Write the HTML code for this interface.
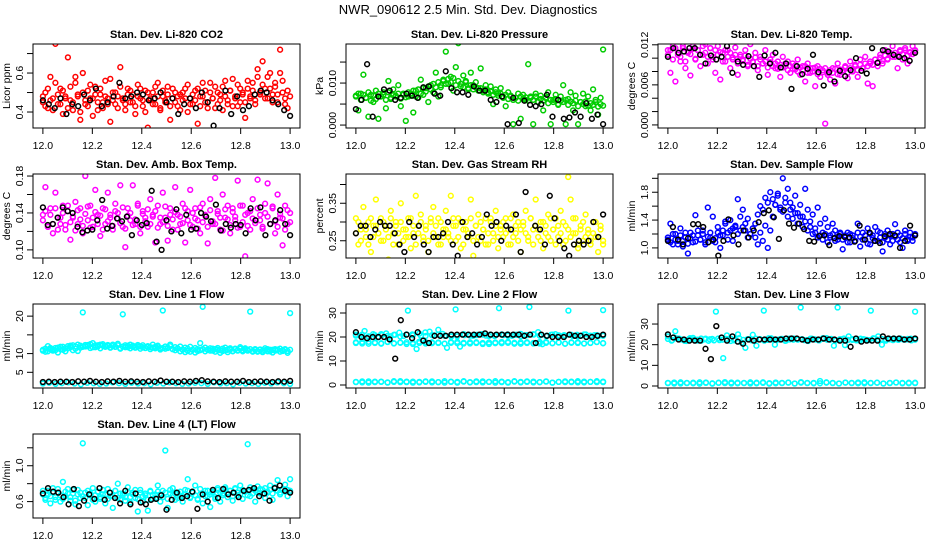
<!DOCTYPE html>
<html><head><meta charset="utf-8"><style>
body{margin:0;background:#fff;}
svg{display:block;font-family:"Liberation Sans",sans-serif;}
</style></head><body>
<svg id="chart" width="936" height="540" viewBox="0 0 936 540">
<rect width="936" height="540" fill="#fff"/>
<text x="468" y="14" text-anchor="middle" font-size="13">NWR_090612  2.5 Min. Std. Dev. Diagnostics</text>
</svg>
<script>
const xTicks=[12.0,12.2,12.4,12.6,12.8,13.0];
const xTickLabels=["12.0","12.2","12.4","12.6","12.8","13.0"];
const co2Color=[0.45,0.50,0.42,0.58,0.47,0.75,0.44,0.52,0.39,0.48,0.68,0.46,0.41,0.55,0.49,0.36,0.60,0.44,0.51,0.47,0.38,0.53,0.45,0.49,0.42,0.56,0.47,0.35,0.50,0.44,0.48,0.63,0.46,0.41,0.52,0.45,0.49,0.39,0.54,0.47,0.43,0.51,0.32,0.46,0.50,0.44,0.55,0.41,0.48,0.45,0.53,0.36,0.47,0.50,0.43,0.49,0.46,0.52,0.40,0.47,0.44,0.51,0.34,0.48,0.55,0.45,0.42,0.50,0.47,0.53,0.44,0.49,0.41,0.56,0.46,0.51,0.43,0.48,0.54,0.45,0.50,0.37,0.52,0.47,0.55,0.44,0.58,0.49,0.66,0.52,0.47,0.60,0.45,0.53,0.49,0.72,0.56,0.44,0.51,0.30];
const co2Color2=[0.48,0.43,0.52,0.46,0.41,0.55,0.49,0.44,0.51,0.47,0.42,0.53,0.45,0.58,0.48,0.40,0.50,0.46,0.43,0.54,0.47,0.49,0.41,0.52,0.45,0.48,0.44,0.57,0.46,0.50,0.42,0.53,0.47,0.44,0.49,0.51,0.45,0.43,0.48,0.52,0.46,0.40,0.50,0.47,0.44,0.53,0.48,0.42,0.51,0.46,0.49,0.43,0.52,0.45,0.48,0.41,0.50,0.47,0.54,0.44,0.49,0.46,0.52,0.43,0.48,0.51,0.45,0.55,0.47,0.42,0.50,0.46,0.53,0.48,0.44,0.51,0.57,0.47,0.43,0.52,0.49,0.45,0.56,0.48,0.51,0.46,0.62,0.50,0.54,0.47,0.58,0.52,0.49,0.55,0.45,0.60,0.50,0.47,0.42,0.48];
const co2Black=[0.46,0.44,0.42,0.47,0.39,0.44,0.43,0.49,0.46,0.52,0.43,0.45,0.48,0.55,0.47,0.48,0.50,0.49,0.46,0.47,0.50,0.45,0.47,0.39,0.44,0.47,0.42,0.50,0.45,0.33,0.42,0.51,0.39,0.48,0.41,0.43,0.49,0.51,0.50,0.46,0.44,0.41,0.38];
const presColor=[0.007,0.0035,0.0075,0.012,0.0065,0.002,0.0072,0.0055,0.0082,0.0015,0.0068,0.0078,0.004,0.0105,0.0062,0.0085,0.007,0.0095,0.0045,0.0075,0.001,0.0068,0.0075,0.003,0.0082,0.0065,0.0108,0.0072,0.0088,0.0055,0.0095,0.0078,0.0125,0.0068,0.009,0.0105,0.0175,0.0098,0.0115,0.0082,0.0138,0.0195,0.0092,0.0118,0.0105,0.0085,0.0125,0.0095,0.0102,0.0088,0.0135,0.0082,0.0095,0.0078,0.0092,0.005,0.0085,0.0075,0.0088,0.0068,0.0045,0.0078,0.007,0.0002,0.0065,0.0075,0.0015,0.0072,0.006,0.0145,0.0068,0.0002,0.0075,0.0055,0.007,0.0035,0.0065,0.0078,0.0002,0.006,0.0072,0.0048,0.0068,0.0095,0.0002,0.0062,0.0078,0.0035,0.007,0.0002,0.0055,0.0075,0.0045,0.0068,0.0035,0.0085,0.006,0.0025,0.0065,0.018];
const presColor2=[0.0068,0.0075,0.006,0.0072,0.0065,0.0078,0.0058,0.007,0.0062,0.0075,0.0068,0.0072,0.006,0.0078,0.0065,0.0071,0.0068,0.0075,0.0063,0.0072,0.0066,0.0078,0.007,0.0082,0.0068,0.0085,0.0075,0.0088,0.008,0.0092,0.0085,0.0098,0.009,0.0102,0.0095,0.0108,0.0098,0.011,0.0102,0.0112,0.0095,0.0105,0.0098,0.009,0.0102,0.0088,0.0095,0.0085,0.009,0.0082,0.0088,0.0078,0.0085,0.0075,0.008,0.0072,0.0078,0.007,0.0075,0.0065,0.0072,0.0062,0.0068,0.006,0.0065,0.0058,0.0068,0.0062,0.0066,0.0058,0.0065,0.006,0.0068,0.0055,0.0062,0.0058,0.0065,0.0052,0.006,0.0055,0.0062,0.005,0.0058,0.0055,0.006,0.0048,0.0056,0.0052,0.0058,0.0045,0.0055,0.005,0.0056,0.0046,0.0052,0.0048,0.0055,0.0044,0.005,0.0046];
const presBlack=[0.0038,0.006,0.0145,0.002,0.0068,0.0085,0.0082,0.006,0.0065,0.0075,0.007,0.0065,0.009,0.0092,0.0075,0.007,0.0128,0.0088,0.0078,0.0078,0.0072,0.0092,0.0082,0.0082,0.006,0.0055,0.0068,0.0002,0.0065,0.0005,0.0058,0.0048,0.0045,0.005,0.0072,0.002,0.006,0.0015,0.0018,0.003,0.002,0.0052,0.0015,0.0025,0.0002];
const tempColor=[0.0112,0.0078,0.0118,0.0065,0.0105,0.0095,0.0115,0.0085,0.0108,0.0074,0.0118,0.0098,0.0112,0.0088,0.0105,0.0121,0.0092,0.0115,0.0102,0.0078,0.0118,0.0068,0.0108,0.0095,0.0112,0.0085,0.0101,0.0116,0.0075,0.0105,0.0098,0.0112,0.0088,0.0121,0.0095,0.0108,0.0082,0.0102,0.0092,0.0112,0.0075,0.0098,0.0105,0.0085,0.0095,0.0072,0.0102,0.0088,0.0095,0.0078,0.0092,0.0083,0.0098,0.0075,0.0088,0.0065,0.0092,0.0078,0.0085,0.0058,0.0088,0.0072,0.0082,0.0002,0.0078,0.0068,0.0085,0.0062,0.0092,0.0075,0.0082,0.0088,0.0070,0.0095,0.0080,0.0090,0.0072,0.0098,0.0085,0.0102,0.0062,0.0092,0.0058,0.0098,0.0088,0.0105,0.0092,0.0112,0.0098,0.0108,0.0118,0.0102,0.0085,0.0112,0.0098,0.0115,0.0092,0.0108,0.0118,0.0112];
const tempColor2=[0.0105,0.0112,0.0098,0.0115,0.0108,0.0102,0.0118,0.0095,0.011,0.0106,0.0114,0.0099,0.0112,0.0105,0.0118,0.0108,0.0102,0.0115,0.0098,0.0112,0.0105,0.0109,0.0095,0.0112,0.0102,0.0108,0.0098,0.0105,0.0092,0.0102,0.0096,0.0104,0.009,0.0099,0.0094,0.0101,0.0088,0.0098,0.0092,0.0095,0.0086,0.0094,0.0088,0.0092,0.0084,0.009,0.0086,0.0092,0.0082,0.0088,0.0084,0.0089,0.008,0.0086,0.0082,0.0088,0.0078,0.0085,0.008,0.0086,0.0076,0.0084,0.0079,0.0085,0.0075,0.0082,0.0078,0.0084,0.0076,0.0083,0.0079,0.0086,0.0078,0.0085,0.0081,0.0088,0.0082,0.009,0.0085,0.0092,0.0088,0.0095,0.009,0.0098,0.0093,0.0101,0.0096,0.0104,0.0099,0.0106,0.0102,0.0108,0.0104,0.011,0.0106,0.0112,0.0104,0.0109,0.0106,0.0111];
const tempBlack=[0.0102,0.0115,0.0108,0.011,0.0115,0.0115,0.0105,0.0092,0.0104,0.0098,0.0102,0.0118,0.0078,0.0095,0.009,0.0103,0.0088,0.0072,0.0104,0.0092,0.0108,0.0086,0.0092,0.0054,0.0088,0.0076,0.0084,0.0105,0.0079,0.0059,0.0079,0.0065,0.0081,0.0073,0.0082,0.0100,0.0081,0.0077,0.0115,0.0093,0.0112,0.0110,0.0105,0.0102,0.0100,0.0096,0.0108];
const ambColor=[0.138,0.168,0.125,0.145,0.118,0.162,0.135,0.128,0.148,0.122,0.142,0.111,0.135,0.152,0.128,0.145,0.118,0.180,0.132,0.148,0.125,0.165,0.138,0.115,0.145,0.128,0.162,0.135,0.122,0.150,0.140,0.170,0.125,0.103,0.145,0.132,0.170,0.128,0.150,0.118,0.142,0.135,0.125,0.155,0.138,0.108,0.148,0.128,0.162,0.135,0.110,0.145,0.122,0.168,0.138,0.128,0.150,0.108,0.142,0.165,0.125,0.145,0.132,0.118,0.150,0.138,0.107,0.155,0.128,0.178,0.142,0.122,0.160,0.135,0.148,0.118,0.145,0.132,0.175,0.125,0.148,0.093,0.140,0.122,0.155,0.132,0.176,0.138,0.125,0.150,0.172,0.128,0.145,0.118,0.160,0.135,0.105,0.148,0.128,0.140];
const ambColor2=[0.132,0.142,0.125,0.138,0.128,0.145,0.122,0.135,0.14,0.127,0.148,0.13,0.136,0.121,0.143,0.133,0.126,0.139,0.147,0.124,0.135,0.141,0.128,0.137,0.122,0.144,0.131,0.138,0.126,0.142,0.134,0.129,0.146,0.123,0.137,0.14,0.127,0.133,0.148,0.125,0.139,0.131,0.144,0.128,0.136,0.142,0.124,0.135,0.13,0.147,0.126,0.138,0.133,0.141,0.122,0.136,0.129,0.145,0.132,0.127,0.14,0.134,0.123,0.146,0.13,0.137,0.125,0.143,0.131,0.128,0.139,0.135,0.121,0.144,0.133,0.127,0.141,0.136,0.124,0.148,0.13,0.138,0.126,0.142,0.134,0.129,0.145,0.132,0.123,0.14,0.136,0.128,0.147,0.131,0.125,0.139,0.134,0.122,0.143,0.13];
const ambBlack=[0.146,0.127,0.128,0.135,0.146,0.142,0.140,0.125,0.119,0.121,0.122,0.132,0.154,0.123,0.126,0.134,0.131,0.136,0.116,0.132,0.127,0.129,0.164,0.109,0.100,0.132,0.120,0.144,0.118,0.138,0.122,0.123,0.140,0.136,0.131,0.149,0.121,0.128,0.124,0.128,0.127,0.118,0.145,0.132,0.146,0.116,0.128,0.132,0.143,0.128,0.116];
const rhColor=[0.31,0.24,0.28,0.34,0.26,0.30,0.22,0.29,0.36,0.27,0.31,0.25,0.29,0.20,0.33,0.27,0.30,0.24,0.35,0.28,0.26,0.31,0.23,0.29,0.37,0.27,0.32,0.25,0.29,0.22,0.30,0.34,0.26,0.31,0.24,0.28,0.33,0.26,0.37,0.29,0.25,0.31,0.23,0.28,0.30,0.26,0.36,0.21,0.29,0.32,0.25,0.28,0.31,0.24,0.30,0.27,0.33,0.23,0.29,0.26,0.31,0.28,0.24,0.32,0.27,0.30,0.22,0.29,0.33,0.25,0.31,0.28,0.36,0.26,0.30,0.23,0.29,0.32,0.25,0.28,0.31,0.26,0.33,0.24,0.29,0.42,0.36,0.27,0.31,0.23,0.28,0.25,0.32,0.27,0.24,0.30,0.26,0.22,0.28,0.24];
const rhColor2=[0.27,0.3,0.25,0.29,0.28,0.24,0.31,0.26,0.29,0.27,0.25,0.3,0.28,0.26,0.31,0.24,0.29,0.27,0.3,0.25,0.28,0.26,0.31,0.27,0.24,0.29,0.3,0.26,0.28,0.25,0.31,0.27,0.29,0.24,0.3,0.26,0.28,0.27,0.25,0.31,0.29,0.26,0.3,0.24,0.28,0.27,0.31,0.25,0.29,0.26,0.3,0.28,0.24,0.27,0.31,0.25,0.29,0.26,0.28,0.3,0.27,0.24,0.31,0.26,0.29,0.25,0.28,0.3,0.27,0.26,0.31,0.24,0.29,0.28,0.25,0.3,0.27,0.26,0.31,0.28,0.24,0.29,0.27,0.3,0.25,0.28,0.26,0.31,0.27,0.24,0.29,0.3,0.26,0.28,0.25,0.27,0.3,0.26,0.29,0.25];
const rhBlack=[0.27,0.29,0.29,0.26,0.28,0.30,0.29,0.29,0.27,0.24,0.22,0.30,0.26,0.29,0.24,0.22,0.26,0.26,0.27,0.30,0.24,0.21,0.30,0.26,0.27,0.24,0.26,0.32,0.29,0.30,0.25,0.29,0.28,0.32,0.22,0.38,0.19,0.29,0.28,0.24,0.37,0.31,0.25,0.23,0.21,0.24,0.25,0.24,0.25,0.30,0.26,0.32];
const flowColor=[1.12,1.35,1.05,1.20,1.10,1.28,1.02,1.15,0.92,1.22,1.08,1.47,1.18,1.12,1.25,1.05,1.58,1.15,1.45,1.08,1.22,1.00,1.18,1.38,1.12,1.25,1.10,1.30,1.70,1.25,1.55,1.35,1.42,1.20,1.28,1.15,1.05,1.22,1.10,1.32,1.00,1.25,1.45,1.62,1.78,1.55,2.00,1.72,1.85,1.65,1.58,1.75,1.50,1.62,1.45,1.85,1.55,1.38,1.48,1.28,1.58,1.35,1.22,1.42,1.30,1.18,1.35,1.25,1.12,1.20,0.98,1.15,1.22,1.08,1.18,1.10,1.35,1.02,1.22,1.12,1.28,1.05,1.18,1.30,1.10,1.22,0.95,1.15,1.25,1.05,1.20,1.34,1.12,1.18,1.00,1.25,1.10,1.22,1.15,1.20];
const flowColor2=[1.15,1.08,1.2,1.12,1.05,1.18,1.1,1.22,1.06,1.14,1.18,1.09,1.25,1.12,1.2,1.08,1.16,1.22,1.1,1.14,1.3,1.18,1.25,1.35,1.22,1.4,1.28,1.32,1.2,1.45,1.3,1.25,1.15,1.2,1.28,1.35,1.48,1.6,1.55,1.72,1.65,1.8,1.7,1.62,1.75,1.58,1.52,1.65,1.45,1.55,1.42,1.5,1.35,1.45,1.3,1.38,1.25,1.3,1.2,1.22,1.15,1.18,1.12,1.2,1.08,1.15,1.2,1.1,1.16,1.22,1.12,1.18,1.08,1.2,1.14,1.1,1.22,1.16,1.12,1.18,1.06,1.2,1.14,1.1,1.24,1.15,1.08,1.2,1.12,1.18,1.1,1.16,1.22,1.08,1.14,1.2,1.12,1.16,1.1,1.18];
const flowBlack=[1.10,1.30,1.12,1.05,1.14,1.34,1.34,1.30,1.08,1.12,0.89,1.10,1.41,1.18,1.05,1.25,1.15,1.25,1.37,1.50,1.54,1.44,1.13,1.54,1.35,1.29,1.35,1.27,1.10,1.09,1.17,1.18,1.04,1.14,1.17,1.16,1.15,1.09,1.32,1.12,1.22,1.10,1.07,1.17,1.20,1.18,1.00,1.10,1.32,1.18];
const l1Color=[11,10.5,12,11.2,10.8,11.5,10.3,11.8,11,10.6,11.4,12.1,10.9,11.3,10.7,11.6,21,11.9,12.3,11.5,12.8,11.7,12.2,11.4,12.5,11.9,12,11.6,12.4,11.8,12.6,11.3,20.5,12.2,11.7,12.4,12.1,11.6,12.3,11.9,12.2,11.5,12,11.7,12.4,11.8,12.1,11.4,21.5,11.9,11.5,12,11.2,11.7,11.4,11.9,11.1,11.6,11.3,11.8,11,11.5,11.2,12.8,22.5,11.6,11.1,10.8,11.3,10.5,11,10.2,10.7,10.9,10.4,11.1,10.6,11.3,10.8,11.7,10.9,11.4,11,21.2,10.7,11.2,10.5,11.1,10.8,11.4,10.6,11,10.3,11.2,10.9,11.3,10.7,11.1,10.2,20.8];
const l1Color2=[10.8,11.3,10.6,11.5,11.1,10.9,11.6,11.2,11.8,11.4,12,11.7,12.2,11.9,12.4,12.1,11.8,12.3,12,12.5,11.7,12.2,11.9,12.4,12.1,11.8,12.3,11.6,12,11.8,12.2,11.5,11.9,11.7,12.1,11.4,11.8,11.6,11.9,11.3,11.7,11.5,11.8,11.2,11.6,11.4,11.7,11.1,11.5,11.3,11.6,12.4,11.2,10.9,11.3,10.6,11,10.4,10.8,10.5,11,10.3,10.7,10.9,11.2,10.6,11,11.4,10.8,11.2,11.5,10.9,11.3,11.6,11,11.4,10.7,11.2,10.9,11.3,10.6,11.1,10.8,11.2,10.5,11,10.7,11.1,10.4,10.9,11.2,10.6,11,10.8,11.1,10.5,10.9,11.2,10.7,11];
const l1Low=[2.0,2.2,1.9,2.1,2.3,2.0,1.8,2.2,2.1,1.9,2.0,2.3,2.1,1.9,2.2,2.0,2.1,1.8,2.2,2.0,2.3,2.1,1.9,2.0,2.2,2.1,1.9,2.3,2.0,2.1,1.8,2.2,2.0,2.1,1.9,2.2,2.0,2.3,2.1,1.9];
const l1Black=[2.4,2.5,2.4,2.5,2.5,2.4,2.6,2.5,2.7,2.5,2.4,2.6,2.5,2.7,2.5,2.6,2.5,2.4,2.6,2.5,2.8,2.5,2.5,2.4,2.6,2.5,2.7,2.9,2.6,2.5,2.4,2.6,2.5,2.5,2.7,2.4,2.5,2.6,2.5,2.4,2.6,2.5,2.7];
const l2ColorA=[21,20.5,22.5,20,21.2,19.8,20.8,21.5,20.3,20.9,21.8,20.4,31,21.1,15,20.6,21.9,22.2,20.7,23,21.3,15.5,20.2,31.5,16,20.8,21,20.5,20.9,21.2,20.6,21,20.4,32,20.8,21.1,20.5,20.9,21.3,20.7,32.5,21,22,17,20.6,20.9,21.2,20.5,20.8,31,20.4,20.9,20.6,21.1,20.3,20.8,20.5,31.2];
const l2ColorA2=[20.6,21,20.3,20.8,21.2,20.5,20.9,20.2,21.1,20.7,21.4,20.4,20.8,21,20.5,20.9,20.3,21.2,20.6,20.8,21,20.4,20.7,21.1,20.5,20.9,20.3,20.8,21.2,20.6,20.4,21,20.7,20.5,20.9,20.3,21.1,20.6,20.8,20.5];
const l2ColorB=[17.8,17.3,18,17.5,17.2,17.9,17.4,17.7,17.1,17.6,18.1,17.3,17.8,17.5,17.2,17.9,17.4,17.6,17.3,17.8,17.5,17.1,17.7,17.4,18,17.6,17.2,17.8,17.5,17.3,17.9,17.4,17.7,17.2,17.6,17.8,17.3,17.5,17.9,17.4];
const l2ColorB2=[17.5,17.9,17.2,17.7,17.4,18,17.3,17.6,17.8,17.1,17.5,17.9,17.4,17.7,17.2,17.6,18,17.3,17.8,17.5,17.1,17.7,17.4,17.9,17.6,17.2,17.8,17.5,17.3,17.9,17.6,17.4,17.7,17.2,17.8,17.5,17.3,17.6,17.9,17.4];
const l2Low=[1.2,1.5,1.0,1.4,1.3,1.1,1.6,1.2,1.4,1.0,1.3,1.5,1.1,1.2,1.6,1.3,1.0,1.4,1.2,1.5,1.1,1.3,1.6,1.2,1.0,1.4,1.3,1.5,1.1,1.2,1.4,1.0,1.3,1.5,1.2,1.1,1.4,1.3,1.6,1.2];
const l2Low2=[1.3,1.1,1.5,1.2,1.4,1.0,1.3,1.6,1.2,1.4,1.1,1.3,1.5,1.2,1.0,1.4,1.3,1.6,1.1,1.2,1.5,1.3,1.0,1.4,1.2,1.6,1.1,1.3,1.4,1.2,1.5,1.0,1.3,1.2,1.4,1.6,1.1,1.3,1.2,1.4];
const l2Black=[22,20,19.5,20,20,20,19,11,27,21,19.5,22,18.5,17.5,20.5,20.5,20.5,21,21,21,21,21,21,21.5,21,21,21,21,21,21,20.5,21,17.5,21,20.5,20,20,20,21,20.5,20.5,20,20,20.5,21];
const l3Color=[24,22,26.5,23,22.5,21.8,23.2,22.4,22,23,22.6,21.9,22.8,36,22.2,13.5,24.5,23,22.1,25,21,18.5,22.6,24.8,19.5,22.7,36.5,22.3,23.1,20,22.5,22.8,22,23,22.4,22.7,38,22.2,21.8,22.9,22.5,22.1,22.8,23.2,22.4,19.5,38,22.6,19.8,24,22.3,22.9,22,22.7,22.3,36.5,23,24,20,22.5,22.9,22.2,22.6,23,22.4,22.8,22.1,36];
const l3Color2=[22.8,22.2,23.1,22.5,21.9,22.7,23.3,22.4,22,22.9,22.6,22.1,23,22.4,22.8,21.8,22.5,23.2,22.3,22.7,22.1,22.9,22.5,22,23.1,22.6,22.3,22.8,21.9,22.5,23,22.4,22.7,22.2,22.9,22.6,22.1,23.2,22.4,22.8,22,22.6,23,22.3,22.7,22.1,22.9,22.5,22.2,23.1,22.4,22.8,22,22.6,23,22.3,22.7,22.5,22.9,22.4];
const l3Low=[1.5,1.2,1.8,1.4,1.6,1.1,1.7,1.3,1.5,1.9,1.2,1.6,1.4,1.8,1.3,1.5,1.1,1.7,1.4,1.6,1.2,1.9,1.5,1.3,2.4,1.6,1.4,1.2,1.7,1.5,1.3,1.8,1.4,1.6,1.2,1.5,1.7,1.3,1.6,1.4];
const l3Low2=[1.4,1.7,1.2,1.5,1.3,1.8,1.5,1.1,1.6,1.4,1.7,1.3,1.5,1.2,1.6,1.8,1.4,1.3,1.5,1.7,1.2,1.6,1.4,1.5,1.3,1.8,1.5,1.2,1.6,1.4,1.7,1.3,1.5,1.6,1.2,1.4,1.7,1.5,1.3,1.6];
const l3Black=[25,23.5,22.5,22.5,22,22,22,18,13,29,23.5,22,24,21.5,20.5,22.5,22,22.5,22.5,22.5,22.5,22.5,23,23,23,22.5,22,22.5,22.5,23,22.5,22.5,22,22,19,23,21.5,22,22,22,24,23,23,23,22.5,22.5,23];
const l4Color=[0.72,0.62,0.68,0.58,0.75,0.65,0.7,0.6,0.82,0.66,0.74,0.61,0.69,0.57,0.73,0.64,1.25,0.7,0.56,0.67,0.75,0.6,0.71,0.63,0.68,0.58,0.74,0.66,0.53,0.72,0.8,0.62,0.69,0.65,0.76,0.59,0.7,0.64,0.49,0.73,0.6,0.67,0.5,0.71,0.63,0.68,0.78,0.6,0.72,1.17,0.53,0.69,0.75,0.62,0.7,0.66,0.6,0.73,0.85,0.64,0.71,0.78,0.62,0.68,0.58,0.72,0.66,0.54,0.7,0.63,0.75,0.6,0.69,0.76,0.65,0.72,0.61,0.74,0.67,0.78,0.63,0.71,1.24,0.66,0.74,0.6,0.77,0.69,0.73,0.64,0.7,0.78,0.62,0.75,0.84,0.68,0.73,0.79,0.66,0.85];
const l4Color2=[0.68,0.64,0.72,0.66,0.7,0.62,0.74,0.67,0.63,0.71,0.69,0.65,0.73,0.61,0.68,0.7,0.66,0.64,0.72,0.69,0.62,0.67,0.71,0.65,0.73,0.68,0.63,0.7,0.66,0.72,0.64,0.69,0.67,0.61,0.71,0.65,0.68,0.73,0.63,0.7,0.66,0.69,0.62,0.72,0.67,0.64,0.71,0.68,0.65,0.7,0.63,0.73,0.67,0.69,0.64,0.71,0.66,0.68,0.72,0.65,0.7,0.67,0.63,0.74,0.69,0.66,0.72,0.68,0.71,0.65,0.73,0.7,0.67,0.74,0.69,0.72,0.66,0.75,0.7,0.68,0.73,0.71,0.67,0.76,0.69,0.72,0.7,0.74,0.68,0.75,0.71,0.73,0.69,0.76,0.72,0.7,0.74,0.71,0.73,0.72];
const l4Black=[0.69,0.75,0.71,0.7,0.65,0.57,0.74,0.55,0.61,0.68,0.63,0.75,0.62,0.7,0.64,0.58,0.72,0.57,0.69,0.59,0.57,0.62,0.63,0.67,0.51,0.62,0.7,0.64,0.66,0.71,0.52,0.68,0.6,0.73,0.64,0.74,0.68,0.7,0.65,0.72,0.73,0.75,0.66,0.69,0.61,0.75,0.78,0.72,0.7];

const NS="http://www.w3.org/2000/svg";
const svg=document.getElementById('chart');
const PW=267,PH=84,colLeft=[33,346,658],rowTop=[44,174,304,434];
function mk(tag,attrs,parent){const e=document.createElementNS(NS,tag);for(const k in attrs)e.setAttribute(k,attrs[k]);parent.appendChild(e);return e;}

const panels=[
 {key:'co2',title:'Stan. Dev. Li-820 CO2',ylab:'Licor ppm',c:0,r:0,ymin:0.318,ymax:0.749,ticks:[0.4,0.5,0.6,0.7],labs:{"0.4":"0.4","0.6":"0.6"},series:[[co2Color,'#ff0000'],[co2Color2,'#ff0000'],[co2Black,'#000']]},
 {key:'pressure',title:'Stan. Dev. Li-820 Pressure',ylab:'kPa',c:1,r:0,ymin:-0.0007,ymax:0.0193,ticks:[0,0.005,0.01,0.015],labs:{"0":"0.000","0.01":"0.010"},series:[[presColor,'#00cc00'],[presColor2,'#00cc00'],[presBlack,'#000']]},
 {key:'temp',title:'Stan. Dev. Li-820 Temp.',ylab:'degrees C',c:2,r:0,ymin:-0.00046,ymax:0.01212,ticks:[0,0.002,0.004,0.006,0.008,0.01,0.012],labs:{"0":"0.000","0.006":"0.006","0.012":"0.012"},series:[[tempColor,'#ff00ff'],[tempColor2,'#ff00ff'],[tempBlack,'#000']]},
 {key:'amb',title:'Stan. Dev. Amb. Box Temp.',ylab:'degrees C',c:0,r:1,ymin:0.0912,ymax:0.1822,ticks:[0.1,0.12,0.14,0.16,0.18],labs:{"0.1":"0.10","0.14":"0.14","0.18":"0.18"},series:[[ambColor,'#ff00ff'],[ambColor2,'#ff00ff'],[ambBlack,'#000']]},
 {key:'rh',title:'Stan. Dev. Gas Stream RH',ylab:'percent',c:1,r:1,ymin:0.204,ymax:0.428,ticks:[0.25,0.3,0.35,0.4],labs:{"0.25":"0.25","0.35":"0.35"},series:[[rhColor,'#ffff00'],[rhColor2,'#ffff00'],[rhBlack,'#000']]},
 {key:'sample',title:'Stan. Dev. Sample Flow',ylab:'ml/min',c:2,r:1,ymin:0.855,ymax:2.062,ticks:[1.0,1.2,1.4,1.6,1.8,2.0],labs:{"1":"1.0","1.4":"1.4","1.8":"1.8"},series:[[flowColor,'#0000ff'],[flowColor2,'#0000ff'],[flowBlack,'#000']]},
 {key:'line1',title:'Stan. Dev. Line 1 Flow',ylab:'ml/min',c:0,r:2,ymin:0.81,ymax:23.24,ticks:[5,10,15,20],labs:{"5":"5","10":"10","20":"20"},series:[[l1Color,'#00ffff'],[l1Color2,'#00ffff'],[l1Low,'#00ffff'],[l1Black,'#000']]},
 {key:'line2',title:'Stan. Dev. Line 2 Flow',ylab:'ml/min',c:1,r:2,ymin:-1.25,ymax:33.75,ticks:[0,10,20,30],labs:{"0":"0","10":"10","20":"20","30":"30"},series:[[l2ColorA,'#00ffff'],[l2ColorA2,'#00ffff'],[l2ColorB,'#00ffff'],[l2ColorB2,'#00ffff'],[l2Low,'#00ffff'],[l2Low2,'#00ffff'],[l2Black,'#000']]},
 {key:'line3',title:'Stan. Dev. Line 3 Flow',ylab:'ml/min',c:2,r:2,ymin:-0.97,ymax:39.7,ticks:[0,10,20,30],labs:{"0":"0","10":"10","20":"20","30":"30"},series:[[l3Color,'#00ffff'],[l3Color2,'#00ffff'],[l3Low,'#00ffff'],[l3Low2,'#00ffff'],[l3Black,'#000']]},
 {key:'line4',title:'Stan. Dev. Line 4 (LT) Flow',ylab:'ml/min',c:0,r:3,ymin:0.417,ymax:1.354,ticks:[0.6,0.8,1.0,1.2],labs:{"0.6":"0.6","1":"1.0"},series:[[l4Color,'#00ffff'],[l4Color2,'#00ffff'],[l4Black,'#000']]}
];

panels.forEach(p=>{
 const L=colLeft[p.c],T=rowTop[p.r],B=T+PH;
 const xs=v=>L+(v-11.96)/1.08*PW;
 const ys=v=>T+(p.ymax-v)/(p.ymax-p.ymin)*PH;
 const g=mk('g',{},svg);
 
 
 const clip=mk('clipPath',{id:'clip-'+p.key},g);
 mk('rect',{x:L,y:T,width:PW,height:PH},clip);
 const pts=mk('g',{'clip-path':'url(#clip-'+p.key+')'},g);
 
 
 p.series.forEach(([vals,col],si)=>{
  const n=vals.length;
  vals.forEach((v,i)=>{
   const c=mk('circle',{cx:xs(12+i/(n-1)).toFixed(1),cy:ys(v).toFixed(1),r:2.4,fill:'none',stroke:col,'stroke-width':1.5},pts);
   
   
  });
 });
 const box=mk('rect',{x:L,y:T,width:PW,height:PH,fill:'none',stroke:'#000','stroke-width':1},g);
 
 
 const t=mk('text',{x:L+PW/2,y:T-6,'text-anchor':'middle','font-size':11,'font-weight':'bold'},g);
 t.textContent=p.title;
 
 
 xTicks.forEach((v,i)=>{
  const x=xs(v);
  const tk=mk('line',{x1:x,x2:x,y1:B,y2:B+6,stroke:'#000'},g);
  
  
  const lb=mk('text',{x:x,y:B+21,'text-anchor':'middle','font-size':10.5},g);
  lb.textContent=xTickLabels[i];
  
  
 });
 p.ticks.forEach(v=>{
  const y=ys(v);
  const tk=mk('line',{x1:L-6,x2:L,y1:y,y2:y,stroke:'#000'},g);
  
  
  const key=String(+v.toFixed(6));
  if(p.labs[key]!==undefined){
   const lb=mk('text',{x:L-10,y:y,'text-anchor':'middle','font-size':10.5,transform:'rotate(-90 '+(L-10)+' '+y+')'},g);
   lb.textContent=p.labs[key];
   
   
  }
 });
 const yl=mk('text',{x:L-23,y:T+PH/2,'text-anchor':'middle','font-size':10.5,transform:'rotate(-90 '+(L-23)+' '+(T+PH/2)+')'},g);
 yl.textContent=p.ylab;
 
 
});
</script>
</body></html>
